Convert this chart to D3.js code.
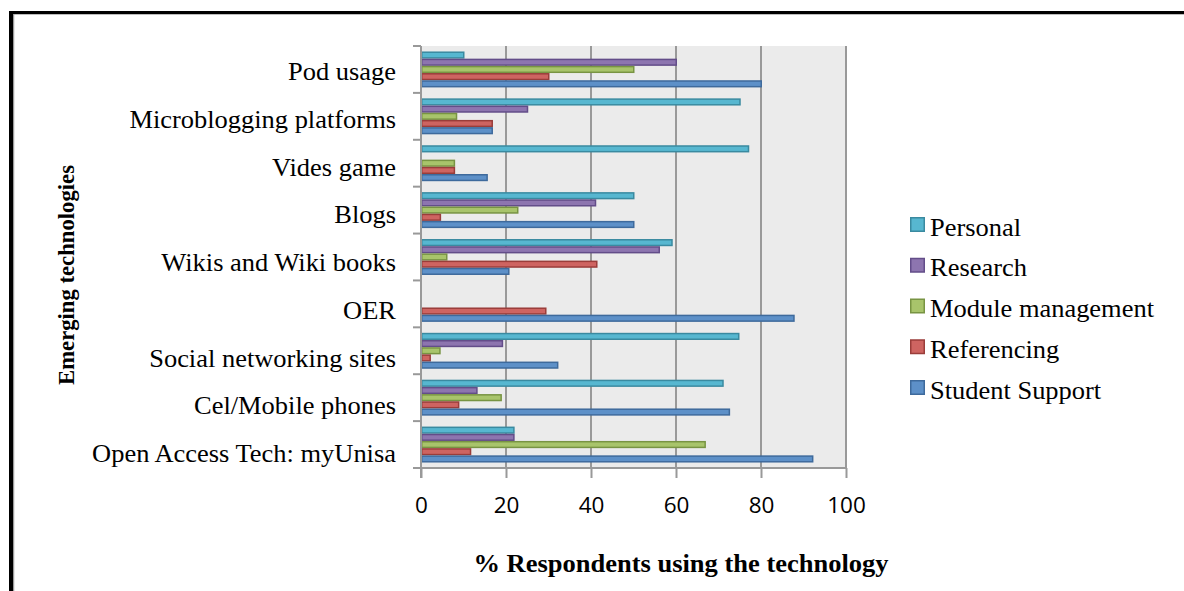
<!DOCTYPE html>
<html>
<head>
<meta charset="utf-8">
<script src="https://cdn.jsdelivr.net/npm/d3@7"></script>
<style>
  html, body { margin: 0; padding: 0; background: #fff; }
  svg { display: block; }
</style>
</head>
<body>
<svg id="chart" width="1184" height="591"></svg>
<script>
const categories = ["Pod usage","Microblogging platforms","Vides game","Blogs","Wikis and Wiki books","OER","Social networking sites","Cel/Mobile phones","Open Access Tech: myUnisa"];
const seriesNames = ["Personal","Research","Module management","Referencing","Student Support"];
const personal       = [10, 75, 77, 50, 59, 0, 74.7, 71, 21.8];
const research       = [60, 25, 0, 41, 56, 0, 19.1, 13.1, 21.8];
const moduleMgmt     = [50, 8.3, 7.8, 22.7, 6, 0, 4.4, 18.8, 66.8];
const referencing    = [30, 16.7, 7.8, 4.5, 41.3, 29.3, 2.1, 8.8, 11.6];
const studentSupport = [80, 16.7, 15.5, 50, 20.6, 87.7, 32.1, 72.5, 92.1];
const xTicks = [0, 20, 40, 60, 80, 100];
const xTitle = "% Respondents using the technology";
const yTitle = "Emerging technologies";

const seriesValues = [personal, research, moduleMgmt, referencing, studentSupport];
const fills   = ["#57B7D0", "#8D75AF", "#A8C46B", "#CE6461", "#5D90C8"];
const strokes = ["#3A8AA0", "#634D89", "#789443", "#9A3D3A", "#3E6A9C"];

const svg = d3.select("#chart");
const W = 1184, H = 591;
const plot = { left: 421, right: 846, top: 46, bottom: 468 };
const serif = "'Liberation Serif', 'Times New Roman', Times, serif";

// outer frame
svg.append("rect").attr("x", 0).attr("y", 0).attr("width", W).attr("height", H).attr("fill", "#fff");
svg.append("line").attr("x1", 13.5).attr("x2", W).attr("y1", 14.5).attr("y2", 14.5).attr("stroke", "#bdbdbd").attr("stroke-width", 1);
svg.append("line").attr("x1", 13.5).attr("x2", 13.5).attr("y1", 14).attr("y2", H).attr("stroke", "#9a9a9a").attr("stroke-width", 1.5);
svg.append("rect").attr("x", 9).attr("y", 11).attr("width", W - 9).attr("height", 3).attr("fill", "#000");
svg.append("rect").attr("x", 9).attr("y", 11).attr("width", 4).attr("height", H - 11).attr("fill", "#000");

const x = d3.scaleLinear().domain([0, 100]).range([plot.left, plot.right]);
const y0 = d3.scaleBand().domain(categories).range([plot.top, plot.bottom]).padding(0);
const y1 = d3.scaleBand().domain(seriesNames).range([0, y0.bandwidth()]).paddingInner(0).paddingOuter(0.76);
const labelY = d3.scalePoint().domain(categories).range([72, 454]);
const color = d3.scaleOrdinal().domain(seriesNames).range(fills);
const strokeColor = d3.scaleOrdinal().domain(seriesNames).range(strokes);

// plot background
svg.append("rect").attr("x", plot.left).attr("y", plot.top)
  .attr("width", plot.right - plot.left).attr("height", plot.bottom - plot.top)
  .attr("fill", "#EBEBEB");

// vertical gridlines
svg.append("g").selectAll("line").data(xTicks.filter(t => t > 0)).join("line")
  .attr("x1", d => x(d)).attr("x2", d => x(d))
  .attr("y1", plot.top).attr("y2", plot.bottom)
  .attr("stroke", "#999").attr("stroke-width", 2);

// bars
const rows = [];
categories.forEach((c, i) => {
  seriesNames.forEach((s, j) => {
    rows.push({ cat: c, series: s, value: seriesValues[j][i] });
  });
});
svg.append("g").selectAll("rect").data(rows.filter(d => d.value > 0)).join("rect")
  .attr("x", x(0) + 0.75)
  .attr("y", d => y0(d.cat) + y1(d.series) + 0.75)
  .attr("width", d => x(d.value) - x(0) - 0.5)
  .attr("height", y1.bandwidth() - 1.5)
  .attr("fill", d => color(d.series))
  .attr("stroke", d => strokeColor(d.series))
  .attr("stroke-width", 1.5);

// left axis line and category boundary ticks
svg.append("line").attr("x1", plot.left).attr("x2", plot.left)
  .attr("y1", plot.top).attr("y2", plot.bottom + 10)
  .attr("stroke", "#999").attr("stroke-width", 2);
const boundaries = categories.map(c => y0(c)).concat([y0(categories[categories.length - 1]) + y0.bandwidth()]);
svg.append("g").selectAll("line").data(boundaries).join("line")
  .attr("x1", plot.left - 8).attr("x2", plot.left)
  .attr("y1", d => d).attr("y2", d => d)
  .attr("stroke", "#999").attr("stroke-width", 2);

// bottom axis
const xAxis = d3.axisBottom(x).tickValues(xTicks).tickSize(10).tickPadding(19).tickFormat(d3.format("d"));
const gx = svg.append("g").attr("transform", `translate(0,${plot.bottom})`).call(xAxis);
gx.select(".domain").remove();
gx.selectAll(".tick line").attr("stroke", "#999").attr("stroke-width", 2);
gx.selectAll(".tick text").attr("font-family", "'Open Sans', sans-serif").attr("font-size", 22.5).attr("fill", "#000");
svg.append("line").attr("x1", plot.left - 8).attr("x2", plot.right + 1)
  .attr("y1", plot.bottom).attr("y2", plot.bottom)
  .attr("stroke", "#999").attr("stroke-width", 2);

// category labels
svg.append("g").selectAll("text").data(categories).join("text")
  .attr("transform", d => `translate(396,${labelY(d) + 8}) scale(1.08,1)`)
  .attr("text-anchor", "end")
  .attr("font-family", serif)
  .attr("font-size", 24.5)
  .attr("fill", "#000")
  .text(d => d);

// axis titles
svg.append("text")
  .attr("transform", `translate(681,572) scale(1.06,1)`)
  .attr("text-anchor", "middle")
  .attr("font-family", serif)
  .attr("font-weight", "bold").attr("font-size", 25).attr("fill", "#000")
  .text(xTitle);
svg.append("text")
  .attr("transform", `translate(73.5,275) rotate(-90)`)
  .attr("text-anchor", "middle")
  .attr("font-family", serif)
  .attr("font-weight", "bold").attr("font-size", 22.7).attr("fill", "#000")
  .text(yTitle);

// legend
const legend = svg.append("g").selectAll("g").data(seriesNames).join("g")
  .attr("transform", (d, i) => `translate(910,${217 + i * 40.75})`);
legend.append("rect").attr("x", 0.75).attr("y", 0.75).attr("width", 13.5).attr("height", 13.5)
  .attr("fill", d => color(d)).attr("stroke", d => strokeColor(d)).attr("stroke-width", 1.5);
legend.append("text")
  .attr("transform", `translate(20,18.5) scale(1.08,1)`)
  .attr("font-family", serif)
  .attr("font-size", 24.5).attr("fill", "#000")
  .text(d => d);
</script>
</body>
</html>
